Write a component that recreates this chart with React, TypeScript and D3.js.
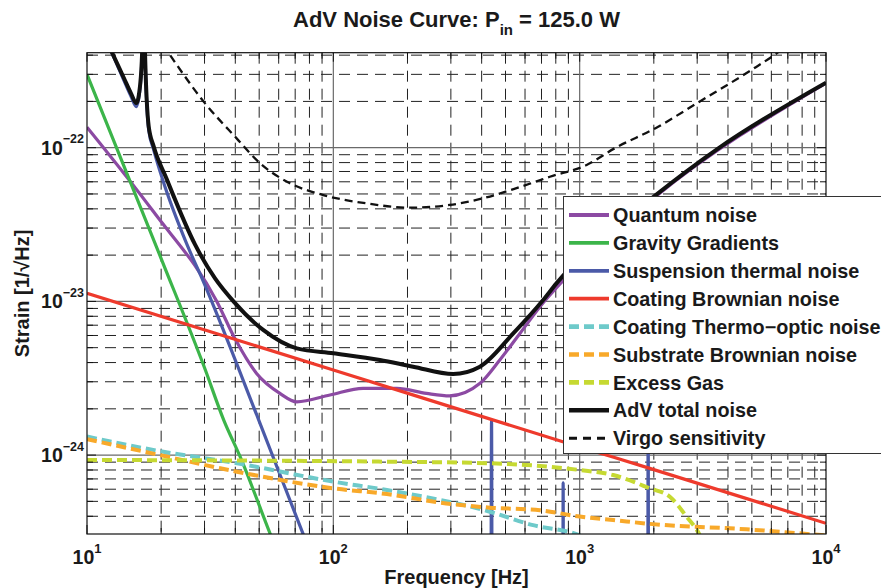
import React, { useEffect, useRef } from 'react';
import * as d3 from 'd3';

type Pt = [number, number]; // [frequency Hz, strain 1/sqrt(Hz)]

// values
const quantumNoise: Pt[] = [
  [10, 1.36e-22], [18.6, 3.84e-23], [33.7, 9.95e-24], [39.8, 5.75e-24], [48.8, 3.4e-24],
  [60.7, 2.52e-24], [71.1, 2.22e-24], [96.9, 2.46e-24], [132, 2.72e-24], [181, 2.72e-24],
  [239, 2.52e-24], [297, 2.43e-24], [394, 2.93e-24], [474, 4.16e-24], [572, 6.19e-24],
  [711, 9.8e-24], [850, 1.35e-23], [2000, 4.7e-23], [10000, 2.63e-22],
];

const gravityGradients: Pt[] = [
  [10, 3.0e-22], [20, 1.9e-23], [30, 3.7e-24], [35.9, 1.69e-24], [41.8, 9.8e-25], [55.3, 3.1e-25], [70, 1.2e-25],
];

const suspensionThermal: Pt[] = [
  [10, 8.5e-22], [12.6, 4.15e-22], [14.1, 2.75e-22], [15.1, 2.15e-22], [15.85, 1.85e-22],
  [16.45, 2.5e-22], [16.8, 5e-22], [16.95, 3e-21], [17.15, 5e-22], [17.8, 1.3e-22],
  [18.65, 9.7e-23], [20.2, 6.32e-23], [25.5, 2.33e-23], [29.3, 1.41e-23], [49.8, 1.69e-24],
  [75.8, 3.0e-25], [100, 1e-25],
  [432, 1e-30], [438.8, 1.67e-24], [445, 1e-30],
  [850, 1e-30], [857, 6.6e-25], [864, 1e-30],
  [1880, 1e-30], [1897, 2e-24], [1914, 1e-30],
  [10000, 1e-30],
];

const coatingBrownian: Pt[] = [
  [10, 1.13e-23], [100, 3.58e-24], [1000, 1.13e-24], [1926, 8.2e-25], [10000, 3.6e-25],
];

const coatingThermoOptic: Pt[] = [
  [10, 1.32e-24], [19.8, 1.06e-24], [40.6, 8.85e-25], [100, 6.72e-25], [165, 5.93e-25],
  [432, 4.28e-25], [647, 3.5e-25], [970, 3.06e-25], [1100, 2.8e-25],
];

const substrateBrownian: Pt[] = [
  [10, 1.27e-24], [19.8, 1.0e-24], [40.6, 7.8e-25], [100, 6.08e-25], [165, 5.58e-25],
  [287, 4.85e-25], [432, 4.55e-25], [690, 4.38e-25], [1000, 3.98e-25], [1368, 3.78e-25],
  [1926, 3.57e-25], [4750, 3.29e-25], [10000, 3.0e-25],
];

const excessGas: Pt[] = [
  [10, 9.3e-25], [165, 9.06e-25], [432, 8.85e-25], [1000, 8.0e-25], [1368, 7.42e-25],
  [1926, 6.08e-25], [2323, 5.36e-25], [2716, 3.98e-25], [3077, 3.0e-25], [3300, 2.3e-25],
];

const advTotal: Pt[] = [
  [10, 9e-22], [12.6, 4.2e-22], [14.1, 2.85e-22], [15.1, 2.25e-22], [15.85, 1.95e-22],
  [16.45, 2.6e-22], [16.8, 5e-22], [16.95, 3e-21], [17.15, 5e-22], [17.8, 1.38e-22],
  [18.65, 1.02e-22], [21.0, 6.32e-23], [27.5, 2.33e-23], [33.1, 1.41e-23], [39.4, 9.96e-24],
  [51.9, 6.52e-24], [71.1, 4.95e-24], [100, 4.6e-24], [154.6, 4.16e-24], [211, 3.76e-24],
  [306.7, 3.37e-24], [393.6, 3.76e-24], [537.5, 6.19e-24], [711, 1.02e-23], [805, 1.31e-23],
  [850, 1.45e-23], [2000, 4.8e-23], [3655, 9.9e-23], [10000, 2.65e-22],
];

const virgoSensitivity: Pt[] = [
  [19, 5.5e-22], [21.4, 4.15e-22], [30.1, 1.95e-22], [40.5, 1.15e-22], [50.4, 7.92e-23],
  [66.7, 5.87e-23], [91, 4.92e-23], [136.5, 4.34e-23], [204.6, 4.07e-23], [297, 4.24e-23],
  [405.6, 4.69e-23], [554, 5.45e-23], [757, 6.47e-23], [1067, 7.71e-23], [1387, 9.91e-23],
  [2032, 1.34e-22], [3076, 2.0e-22], [4993, 3.21e-22], [6362, 4.15e-22], [8000, 5.5e-22],
];

const legendLabels = [
  'Quantum noise', 'Gravity Gradients', 'Suspension thermal noise', 'Coating Brownian noise',
  'Coating Thermo\u2212optic noise', 'Substrate Brownian noise', 'Excess Gas', 'AdV total noise',
  'Virgo sensitivity',
];

const xTickValues = [10, 100, 1000, 10000];
const xTickExponents = ['1', '2', '3', '4'];
const yTickValues = [1e-22, 1e-23, 1e-24];
const yTickExponents = ['\u221222', '\u221223', '\u221224'];

const FONT = '"Liberation Sans", Arial, Helvetica, sans-serif';

export default function App() {
  const svgRef = useRef<SVGSVGElement>(null);

  useEffect(() => {
    if (!svgRef.current) return;
    const svg = d3.select(svgRef.current);
    svg.selectAll('*').remove();

    const width = 881;
    const height = 588;
    const plot = { left: 87, right: 826, top: 52.7, bottom: 534 };

    const x = d3.scaleLog().domain([10, 1e4]).range([plot.left, plot.right]);
    const y = d3.scaleLog().domain([3.067e-25, 4.149e-22]).range([plot.bottom, plot.top]);

    svg.attr('width', width).attr('height', height);

    svg.append('rect').attr('width', width).attr('height', height).attr('fill', 'white');

    svg.append('defs').append('clipPath').attr('id', 'plot-clip')
      .append('rect')
      .attr('x', plot.left).attr('y', plot.top)
      .attr('width', plot.right - plot.left).attr('height', plot.bottom - plot.top);

    // grid values (1..9 per decade)
    const xGrid: { v: number; major: boolean }[] = [];
    for (let e = 1; e <= 4; e++) {
      for (let k = 1; k <= 9; k++) {
        const v = k * Math.pow(10, e);
        if (v >= 10 && v <= 1e4) xGrid.push({ v, major: k === 1 });
      }
    }
    const yGrid: { v: number; major: boolean }[] = [];
    const [yMin, yMax] = y.domain();
    for (let e = -25; e <= -22; e++) {
      for (let k = 1; k <= 9; k++) {
        const v = k * Math.pow(10, e);
        if (v >= yMin && v <= yMax) yGrid.push({ v, major: k === 1 });
      }
    }

    const grid = svg.append('g');
    grid.selectAll('.xminor').data(xGrid.filter(d => !d.major && d.v < 1e4)).enter().append('line')
      .attr('x1', d => x(d.v)).attr('x2', d => x(d.v))
      .attr('y1', plot.top).attr('y2', plot.bottom)
      .attr('stroke', '#222').attr('stroke-width', 1).attr('stroke-dasharray', '11,7');
    grid.selectAll('.yminor').data(yGrid.filter(d => !d.major)).enter().append('line')
      .attr('x1', plot.left).attr('x2', plot.right)
      .attr('y1', d => y(d.v)).attr('y2', d => y(d.v))
      .attr('stroke', '#222').attr('stroke-width', 1).attr('stroke-dasharray', '11,7');
    grid.selectAll('.xmajor').data(xGrid.filter(d => d.major && d.v > 10 && d.v < 1e4)).enter().append('line')
      .attr('x1', d => x(d.v)).attr('x2', d => x(d.v))
      .attr('y1', plot.top).attr('y2', plot.bottom)
      .attr('stroke', '#6a6a6a').attr('stroke-width', 1.2);
    grid.selectAll('.ymajor').data(yGrid.filter(d => d.major)).enter().append('line')
      .attr('x1', plot.left).attr('x2', plot.right)
      .attr('y1', d => y(d.v)).attr('y2', d => y(d.v))
      .attr('stroke', '#6a6a6a').attr('stroke-width', 1.2);

    const series = [
      { data: quantumNoise, color: '#8c4aa3', w: 3.2, dash: null },
      { data: gravityGradients, color: '#3cb54a', w: 3.2, dash: null },
      { data: suspensionThermal, color: '#4b5aa8', w: 3.2, dash: null },
      { data: coatingBrownian, color: '#ee3a2c', w: 3.2, dash: null },
      { data: coatingThermoOptic, color: '#6ecaca', w: 4, dash: '10,5' },
      { data: substrateBrownian, color: '#f8a92a', w: 4, dash: '10,5' },
      { data: excessGas, color: '#c6d932', w: 4, dash: '10,5' },
      { data: advTotal, color: '#111111', w: 4, dash: null },
      { data: virgoSensitivity, color: '#111111', w: 2.3, dash: '8,5' },
    ];

    const line = d3.line<Pt>()
      .x(d => x(d[0]))
      .y(d => y(d[1]))
      .curve(d3.curveMonotoneX);

    const lines = svg.append('g').attr('clip-path', 'url(#plot-clip)');
    series.forEach(s => {
      lines.append('path')
        .attr('d', line(s.data))
        .attr('fill', 'none')
        .attr('stroke', s.color)
        .attr('stroke-width', s.w)
        .attr('stroke-dasharray', s.dash)
        .attr('stroke-linejoin', 'round');
    });

    // inward ticks on all sides
    const ticks = svg.append('g').attr('stroke', '#111').attr('stroke-width', 1);
    xGrid.forEach(d => {
      const len = d.major ? 9 : 6;
      ticks.append('line').attr('x1', x(d.v)).attr('x2', x(d.v)).attr('y1', plot.bottom).attr('y2', plot.bottom - len);
      ticks.append('line').attr('x1', x(d.v)).attr('x2', x(d.v)).attr('y1', plot.top).attr('y2', plot.top + len);
    });
    yGrid.forEach(d => {
      const len = d.major ? 9 : 6;
      ticks.append('line').attr('y1', y(d.v)).attr('y2', y(d.v)).attr('x1', plot.left).attr('x2', plot.left + len);
      ticks.append('line').attr('y1', y(d.v)).attr('y2', y(d.v)).attr('x1', plot.right).attr('x2', plot.right - len);
    });

    // box
    svg.append('rect')
      .attr('x', plot.left).attr('y', plot.top)
      .attr('width', plot.right - plot.left).attr('height', plot.bottom - plot.top)
      .attr('fill', 'none').attr('stroke', '#111').attr('stroke-width', 1.2);

    // tick labels
    const xl = svg.append('g').attr('font-family', FONT).attr('font-weight', 'bold').attr('fill', '#1a1a1a');
    xTickValues.forEach((v, i) => {
      const t = xl.append('text').attr('x', x(v)).attr('y', 564).attr('text-anchor', 'middle').attr('font-size', 19.5);
      t.append('tspan').text('10');
      t.append('tspan').attr('dy', -11).attr('font-size', 13).text(xTickExponents[i]);
    });
    yTickValues.forEach((v, i) => {
      const t = xl.append('text').attr('x', 84).attr('y', y(v) + 7).attr('text-anchor', 'end').attr('font-size', 19.5);
      t.append('tspan').text('10');
      t.append('tspan').attr('dy', -11.5).attr('font-size', 12.5).text(yTickExponents[i]);
    });

    // axis labels and title
    svg.append('text')
      .attr('x', (plot.left + plot.right) / 2).attr('y', 584)
      .attr('text-anchor', 'middle').attr('font-family', FONT).attr('font-weight', 'bold')
      .attr('font-size', 20).attr('fill', '#1a1a1a')
      .text('Frequency [Hz]');
    svg.append('text')
      .attr('transform', `translate(29,${(plot.top + plot.bottom) / 2}) rotate(-90)`)
      .attr('text-anchor', 'middle').attr('font-family', FONT).attr('font-weight', 'bold')
      .attr('font-size', 20).attr('fill', '#1a1a1a')
      .text('Strain [1/\u221AHz]');

    const title = svg.append('text')
      .attr('x', (plot.left + plot.right) / 2).attr('y', 27)
      .attr('text-anchor', 'middle').attr('font-family', FONT).attr('font-weight', 'bold')
      .attr('font-size', 22).attr('fill', '#1a1a1a');
    title.append('tspan').text('AdV Noise Curve: P');
    title.append('tspan').attr('dy', 8).attr('font-size', 15).text('in');
    title.append('tspan').attr('dy', -8).text(' = 125.0 W');

    // legend
    const lg = svg.append('g');
    lg.append('rect')
      .attr('x', 563.5).attr('y', 196.5).attr('width', 340).attr('height', 257)
      .attr('fill', 'white').attr('stroke', '#333').attr('stroke-width', 1);
    series.forEach((s, i) => {
      const cy = 215 + i * 27.9;
      lg.append('line')
        .attr('x1', 569).attr('x2', 609).attr('y1', cy).attr('y2', cy)
        .attr('stroke', s.color).attr('stroke-width', s.w + 0.6)
        .attr('stroke-dasharray', s.dash ? (s.color === '#111111' ? '8,6' : '10,5') : null);
      lg.append('text')
        .attr('x', 613).attr('y', cy).attr('dy', '0.36em')
        .attr('font-family', FONT).attr('font-weight', 'bold').attr('font-size', 19.8)
        .attr('fill', '#1a1a1a')
        .text(legendLabels[i]);
    });
  }, []);

  return (
    <svg ref={svgRef} style={{ position: 'absolute', left: 0, top: 0, display: 'block' }}></svg>
  );
}
